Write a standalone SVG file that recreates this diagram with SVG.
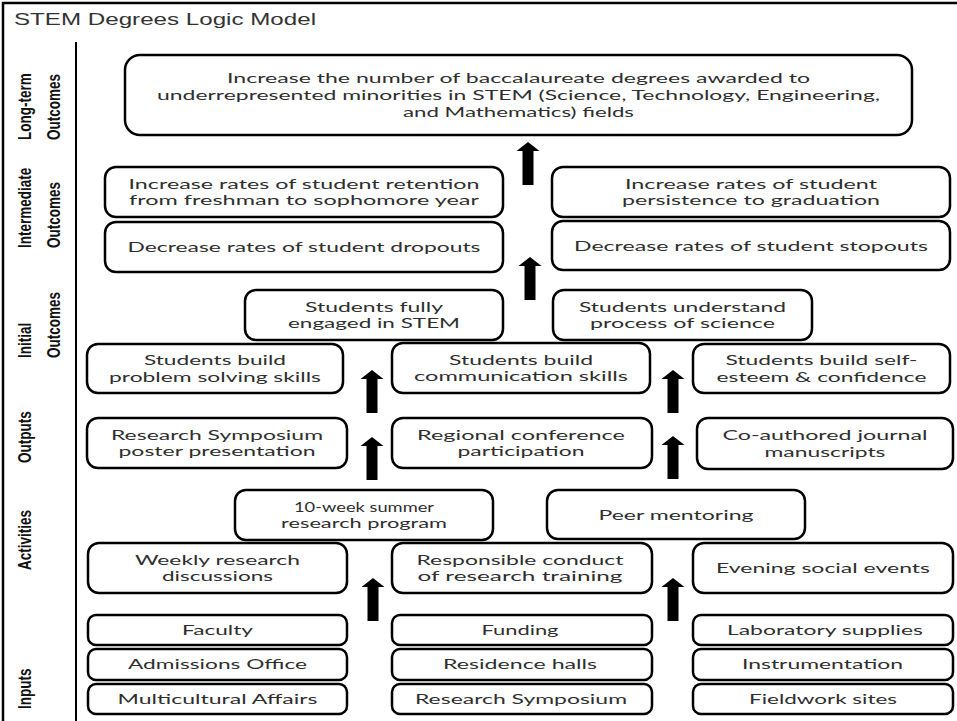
<svg xmlns="http://www.w3.org/2000/svg" xmlns:xlink="http://www.w3.org/1999/xlink" width="957" height="721" viewBox="0 0 957 721">
<style>
.box{fill:#fff;stroke:#000;stroke-width:2.5}
.t{font-family:Lato,"Open Sans","Liberation Sans",sans-serif;font-size:14px;fill:#2e2e2e;text-anchor:middle}
.lab{font-family:"Liberation Sans",Arial,sans-serif;font-weight:bold;font-size:13.5px;fill:#111}
.title{font-family:"Liberation Sans",Arial,sans-serif;font-size:17px;fill:#333}
.arr{fill:#000}
</style>
<defs>
<path id="arr" d="M0,0 L11.5,9 L5.5,9 L5.5,43 L-5.5,43 L-5.5,9 L-11.5,9 Z"/>
</defs>
<rect x="0" y="0" width="957" height="721" fill="#fff"/>
<g id="frame">
<path d="M3,721 V3 H957" fill="none" stroke="#000" stroke-width="2.5"/>
<path d="M76,42 V721" fill="none" stroke="#000" stroke-width="2"/>
<text class="title" x="14" y="25" textLength="302" lengthAdjust="spacingAndGlyphs">STEM Degrees Logic Model</text>
</g>
<g id="labels">
<text class="lab" transform="translate(31,140) scale(1.4,1) rotate(-90)">Long-term</text>
<text class="lab" transform="translate(60,140) scale(1.4,1) rotate(-90)">Outcomes</text>
<text class="lab" transform="translate(31,248) scale(1.4,1) rotate(-90)">Intermediate</text>
<text class="lab" transform="translate(60,248) scale(1.4,1) rotate(-90)">Outcomes</text>
<text class="lab" transform="translate(31,358) scale(1.4,1) rotate(-90)">Initial</text>
<text class="lab" transform="translate(60,358) scale(1.4,1) rotate(-90)">Outcomes</text>
<text class="lab" transform="translate(31,463) scale(1.4,1) rotate(-90)">Outputs</text>
<text class="lab" transform="translate(31,570) scale(1.4,1) rotate(-90)">Activities</text>
<text class="lab" transform="translate(31,709) scale(1.4,1) rotate(-90)">Inputs</text>
</g>
<g id="connectors" class="arr">
<use xlink:href="#arr" href="#arr" x="528" y="142"/>
<use xlink:href="#arr" href="#arr" x="530" y="257"/>
<use xlink:href="#arr" href="#arr" x="372" y="370"/>
<use xlink:href="#arr" href="#arr" x="673" y="370"/>
<use xlink:href="#arr" href="#arr" x="372" y="437"/>
<use xlink:href="#arr" href="#arr" x="673" y="436"/>
<use xlink:href="#arr" href="#arr" x="373" y="578"/>
<use xlink:href="#arr" href="#arr" x="673" y="578"/>
</g>
<g id="lt">
<rect class="box" x="125" y="55" width="787" height="80" rx="15"/>
<text class="t" x="518.5" y="83.3" textLength="583" lengthAdjust="spacingAndGlyphs">Increase the number of baccalaureate degrees awarded to</text>
<text class="t" x="518.5" y="100" textLength="723" lengthAdjust="spacingAndGlyphs">underrepresented minorities in STEM (Science, Technology, Engineering,</text>
<text class="t" x="518.5" y="116.7" textLength="231" lengthAdjust="spacingAndGlyphs">and Mathematics) fields</text>
</g>
<g id="im1">
<rect class="box" x="105" y="167" width="398" height="50" rx="11"/>
<text class="t" x="304" y="188.6" textLength="351" lengthAdjust="spacingAndGlyphs">Increase rates of student retention</text>
<text class="t" x="304" y="205.3" textLength="350" lengthAdjust="spacingAndGlyphs">from freshman to sophomore year</text>
</g>
<g id="im2">
<rect class="box" x="105" y="222" width="398" height="50" rx="11"/>
<text class="t" x="304" y="252" textLength="353" lengthAdjust="spacingAndGlyphs">Decrease rates of student dropouts</text>
</g>
<g id="im3">
<rect class="box" x="552" y="167" width="398" height="50" rx="11"/>
<text class="t" x="751" y="188.6" textLength="252" lengthAdjust="spacingAndGlyphs">Increase rates of student</text>
<text class="t" x="751" y="205.3" textLength="258" lengthAdjust="spacingAndGlyphs">persistence to graduation</text>
</g>
<g id="im4">
<rect class="box" x="552" y="221" width="398" height="49" rx="11"/>
<text class="t" x="751" y="250.5" textLength="354" lengthAdjust="spacingAndGlyphs">Decrease rates of student stopouts</text>
</g>
<g id="io1">
<rect class="box" x="245" y="290" width="258" height="50" rx="11"/>
<text class="t" x="374" y="311.6" textLength="138" lengthAdjust="spacingAndGlyphs">Students fully</text>
<text class="t" x="374" y="328.3" textLength="172" lengthAdjust="spacingAndGlyphs">engaged in STEM</text>
</g>
<g id="io2">
<rect class="box" x="553" y="290" width="259" height="50" rx="11"/>
<text class="t" x="682.5" y="311.6" textLength="207" lengthAdjust="spacingAndGlyphs">Students understand</text>
<text class="t" x="682.5" y="328.3" textLength="185" lengthAdjust="spacingAndGlyphs">process of science</text>
</g>
<g id="io3">
<rect class="box" x="87" y="344" width="256" height="49" rx="11"/>
<text class="t" x="215" y="365.2" textLength="142" lengthAdjust="spacingAndGlyphs">Students build</text>
<text class="t" x="215" y="381.9" textLength="212" lengthAdjust="spacingAndGlyphs">problem solving skills</text>
</g>
<g id="io4">
<rect class="box" x="392" y="343" width="258" height="50" rx="11"/>
<text class="t" x="521" y="364.7" textLength="144" lengthAdjust="spacingAndGlyphs">Students build</text>
<text class="t" x="521" y="381.4" textLength="214" lengthAdjust="spacingAndGlyphs">communication skills</text>
</g>
<g id="io5">
<rect class="box" x="693" y="344" width="257" height="49" rx="11"/>
<text class="t" x="821.5" y="365.2" textLength="192" lengthAdjust="spacingAndGlyphs">Students build self-</text>
<text class="t" x="821.5" y="381.9" textLength="210" lengthAdjust="spacingAndGlyphs">esteem &amp; confidence</text>
</g>
<g id="op1">
<rect class="box" x="87" y="418" width="260" height="50" rx="11"/>
<text class="t" x="217" y="439.6" textLength="212" lengthAdjust="spacingAndGlyphs">Research Symposium</text>
<text class="t" x="217" y="456.3" textLength="197" lengthAdjust="spacingAndGlyphs">poster presentation</text>
</g>
<g id="op2">
<rect class="box" x="392" y="418" width="260" height="50" rx="11"/>
<text class="t" x="521" y="439.6" textLength="208" lengthAdjust="spacingAndGlyphs">Regional conference</text>
<text class="t" x="521" y="456.3" textLength="127" lengthAdjust="spacingAndGlyphs">participation</text>
</g>
<g id="op3">
<rect class="box" x="697" y="418" width="256" height="51" rx="11"/>
<text class="t" x="825" y="440" textLength="205" lengthAdjust="spacingAndGlyphs">Co-authored journal</text>
<text class="t" x="825" y="456.7" textLength="121" lengthAdjust="spacingAndGlyphs">manuscripts</text>
</g>
<g id="ac1">
<rect class="box" x="235" y="490" width="258" height="50" rx="11"/>
<text class="t" x="364" y="511.6" textLength="140" lengthAdjust="spacingAndGlyphs">10-week summer</text>
<text class="t" x="364" y="528.3" textLength="166" lengthAdjust="spacingAndGlyphs">research program</text>
</g>
<g id="ac2">
<rect class="box" x="547" y="490" width="258" height="49" rx="11"/>
<text class="t" x="676" y="519.5" textLength="155" lengthAdjust="spacingAndGlyphs">Peer mentoring</text>
</g>
<g id="ac3">
<rect class="box" x="88" y="543" width="259" height="50" rx="11"/>
<text class="t" x="217.5" y="564.6" textLength="165" lengthAdjust="spacingAndGlyphs">Weekly research</text>
<text class="t" x="217.5" y="581.3" textLength="111" lengthAdjust="spacingAndGlyphs">discussions</text>
</g>
<g id="ac4">
<rect class="box" x="392" y="543" width="260" height="50" rx="11"/>
<text class="t" x="520" y="564.6" textLength="207" lengthAdjust="spacingAndGlyphs">Responsible conduct</text>
<text class="t" x="520" y="581.3" textLength="205" lengthAdjust="spacingAndGlyphs">of research training</text>
</g>
<g id="ac5">
<rect class="box" x="693" y="543" width="260" height="50" rx="11"/>
<text class="t" x="823" y="573" textLength="214" lengthAdjust="spacingAndGlyphs">Evening social events</text>
</g>
<g id="in1">
<rect class="box" x="88" y="615" width="259" height="30" rx="8"/>
<text class="t" x="217.5" y="634.5" textLength="71" lengthAdjust="spacingAndGlyphs">Faculty</text>
</g>
<g id="in2">
<rect class="box" x="88" y="649" width="259" height="31" rx="8"/>
<text class="t" x="217.5" y="669" textLength="179" lengthAdjust="spacingAndGlyphs">Admissions Office</text>
</g>
<g id="in3">
<rect class="box" x="88" y="684" width="259" height="30" rx="8"/>
<text class="t" x="217.5" y="703.5" textLength="200" lengthAdjust="spacingAndGlyphs">Multicultural Affairs</text>
</g>
<g id="in4">
<rect class="box" x="392" y="615" width="260" height="30" rx="8"/>
<text class="t" x="520" y="634.5" textLength="77" lengthAdjust="spacingAndGlyphs">Funding</text>
</g>
<g id="in5">
<rect class="box" x="392" y="649" width="260" height="31" rx="8"/>
<text class="t" x="520" y="669" textLength="154" lengthAdjust="spacingAndGlyphs">Residence halls</text>
</g>
<g id="in6">
<rect class="box" x="392" y="684" width="260" height="30" rx="8"/>
<text class="t" x="521" y="703.5" textLength="212" lengthAdjust="spacingAndGlyphs">Research Symposium</text>
</g>
<g id="in7">
<rect class="box" x="693" y="615" width="260" height="30" rx="8"/>
<text class="t" x="825" y="634.5" textLength="196" lengthAdjust="spacingAndGlyphs">Laboratory supplies</text>
</g>
<g id="in8">
<rect class="box" x="693" y="649" width="260" height="31" rx="8"/>
<text class="t" x="822.5" y="669" textLength="161" lengthAdjust="spacingAndGlyphs">Instrumentation</text>
</g>
<g id="in9">
<rect class="box" x="693" y="684" width="260" height="30" rx="8"/>
<text class="t" x="823" y="703.5" textLength="148" lengthAdjust="spacingAndGlyphs">Fieldwork sites</text>
</g>
</svg>
